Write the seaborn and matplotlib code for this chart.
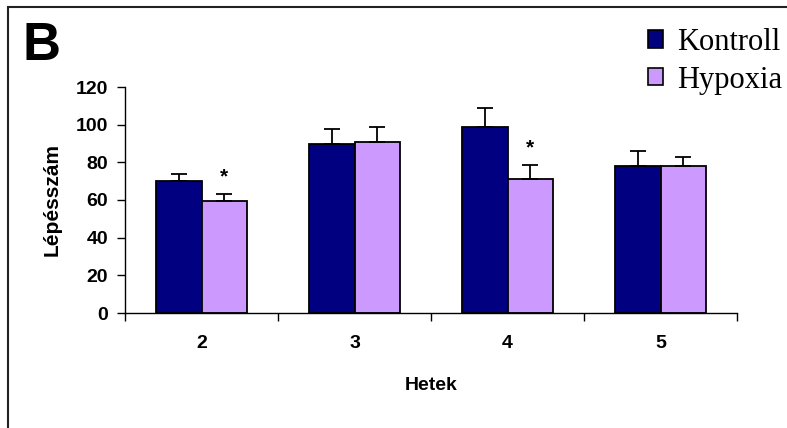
import numpy as np
import pandas as pd
import seaborn as sns
import matplotlib.pyplot as plt
from matplotlib.patches import Rectangle

weeks = ["2", "3", "4", "5"]
kontroll = [70, 90, 99, 78]
kontroll_err = [4, 7.5, 10, 8]
hypoxia = [59.5, 91, 71, 78]
hypoxia_err = [3.5, 8, 7.5, 5]
signif = [True, False, True, False]  # hypoxia vs kontroll

df = pd.DataFrame({
    "Hetek": weeks * 2,
    "value": kontroll + hypoxia,
    "group": ["Kontroll"] * 4 + ["Hypoxia"] * 4,
})

sns.set_style("white")
plt.rcParams["font.family"] = ["Liberation Sans", "DejaVu Sans"]
plt.rcParams["text.color"] = "black"
plt.rcParams["axes.labelcolor"] = "black"
plt.rcParams["xtick.color"] = "black"
plt.rcParams["ytick.color"] = "black"

fig = plt.figure(figsize=(7.87, 4.28), dpi=100)
ax = fig.add_axes([125 / 787, 1 - 313 / 428, (737 - 125) / 787, (313 - 87) / 428])

sns.barplot(data=df, x="Hetek", y="value", hue="group", ax=ax,
            palette={"Kontroll": "#000080", "Hypoxia": "#CC99FF"},
            saturation=1, edgecolor="black", linewidth=1.3, width=0.59,
            errorbar=None, legend=False)

# upper error bars only
conts = ax.containers
for cont, vals, errs in zip(conts, [kontroll, hypoxia], [kontroll_err, hypoxia_err]):
    xs = [b.get_x() + b.get_width() / 2 for b in cont]
    ax.errorbar(xs, vals, yerr=[np.zeros(len(errs)), errs], fmt="none",
                ecolor="black", elinewidth=1.3, capsize=6, capthick=1.3)

# asterisks
for b, v, e, s in zip(conts[1], hypoxia, hypoxia_err, signif):
    if s:
        ax.text(b.get_x() + b.get_width() / 2, v + e + 4, "*", ha="center",
                va="bottom", fontsize=15, fontweight="bold")

ax.set_ylim(0, 120)
ax.set_xlim(-0.5, 3.5)
ax.set_yticks(range(0, 121, 20))
ax.set_xticks([0, 1, 2, 3])
ax.set_xticklabels(weeks)
# tick marks between categories on x axis
ax.set_xticks([-0.5, 0.5, 1.5, 2.5, 3.5], minor=True)
ax.tick_params(axis="x", which="major", length=0, pad=16, labelsize=14)
ax.tick_params(axis="x", which="minor", length=6, width=1, direction="out")
ax.tick_params(axis="y", length=6, width=1, direction="out", labelsize=14, pad=6)
ax.tick_params(axis="both", which="both", bottom=True, left=True)
for lab in ax.get_xticklabels() + ax.get_yticklabels():
    lab.set_fontweight("bold")

sns.despine(ax=ax, top=True, right=True)
for sp in ["left", "bottom"]:
    ax.spines[sp].set_color("black")
    ax.spines[sp].set_linewidth(1)

ax.set_xlabel("Hetek", fontsize=14, fontweight="bold", labelpad=18)
ax.set_ylabel("Lépésszám", fontsize=15, fontweight="bold", labelpad=10)

# legend
handles = [Rectangle((0, 0), 1, 1, facecolor="#000080", edgecolor="black", lw=1.2),
           Rectangle((0, 0), 1, 1, facecolor="#CC99FF", edgecolor="black", lw=1.2)]
fig.legend(handles, ["Kontroll", "Hypoxia"], loc="upper left",
           bbox_to_anchor=(648 / 787, 1 - 28 / 428), frameon=False,
           prop={"family": "Liberation Serif", "size": 22},
           handlelength=0.5, handleheight=0.5, handletextpad=0.45,
           labelspacing=0.28, borderaxespad=0, borderpad=0)

fig.text(22 / 787, 1 - 60 / 428, "B", fontsize=38, fontweight="bold", va="baseline")

# outer frame (left and top edges visible)
fig.patches.append(Rectangle((8 / 787, -0.1), 1.2, 1.1 - 7 / 428,
                             transform=fig.transFigure, fill=False,
                             edgecolor="#222222", lw=1.5))

fig.savefig("out.png", dpi=100)
